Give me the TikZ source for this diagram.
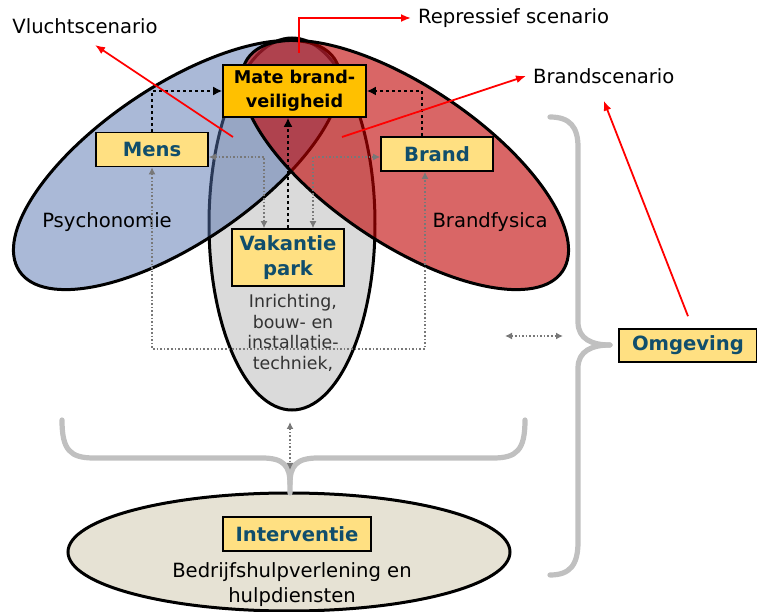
\documentclass[tikz,border=0pt]{standalone}
\usepackage{fontspec}
\setmainfont{DejaVu Sans}
\usetikzlibrary{arrows.meta}

\definecolor{psyblue}{RGB}{85,115,175}
\definecolor{firered}{RGB}{192,0,0}
\definecolor{parkgrey}{RGB}{218,218,218}
\definecolor{helpbeige}{RGB}{230,226,212}
\definecolor{boxyellow}{RGB}{255,224,130}
\definecolor{mateorange}{RGB}{255,192,0}
\definecolor{boxtext}{RGB}{16,78,108}
\definecolor{bracegrey}{RGB}{192,192,192}
\definecolor{dotgrey}{RGB}{120,120,120}

\begin{document}
\begin{tikzpicture}[x=0.5pt,y=0.5pt,
	every node/.style={font=\fontsize{9.8}{12.5}\selectfont},
	box/.style={draw=black,line width=0.8pt,fill=boxyellow,text=boxtext,font=\fontsize{9.8}{12.5}\selectfont\bfseries,align=center,inner sep=0pt,minimum width=56pt,minimum height=17pt},
	mate/.style={box,fill=mateorange,text=black,font=\fontsize{8.8}{12}\selectfont\bfseries,minimum width=71.5pt,minimum height=26pt},
	blackdot/.style={line width=1.4pt,dash pattern=on 1.4pt off 1.6pt,-{Latex[length=4.5pt,width=4.5pt]}},
	greydot/.style={dotgrey,line width=0.8pt,dash pattern=on 0.8pt off 1pt,{Latex[length=3.5pt,width=3.5pt]}-{Latex[length=3.5pt,width=3.5pt]}},
	redarrow/.style={red,line width=0.9pt,-{Latex[length=5pt,width=4pt]}},
	brace/.style={bracegrey,line width=2.6pt,line cap=round}]
	\useasboundingbox (0,0) rectangle (757,612);
	% the three fields
	\draw[line width=1.5pt,fill=parkgrey] (292,388) ellipse [x radius=83,y radius=186];
	\draw[line width=1.5pt,fill=psyblue,fill opacity=0.5,rotate around={34:(177,447)}] (177,447) ellipse [x radius=190,y radius=78.5];
	\draw[line width=1.5pt,fill=firered,fill opacity=0.6,rotate around={-34:(405,447)}] (405,447) ellipse [x radius=190,y radius=78.5];
	\draw[line width=1.5pt,fill=helpbeige] (289,60) ellipse [x radius=221,y radius=59];
	% braces
	\draw[brace] (62,192) .. controls (62,162) and (70,154) .. (94,154) -- (262,154) .. controls (284,154) and (290,146) .. (290,128) -- (290,119);
	\draw[brace] (290,128) .. controls (290,146) and (296,154) .. (318,154) -- (493,154) .. controls (517,154) and (525,162) .. (525,192);
	\draw[brace] (550,495) .. controls (570,495) and (578,485) .. (578,465) -- (578,290) .. controls (578,273) and (592,267) .. (610,267);
	\draw[brace] (610,267) .. controls (592,267) and (578,261) .. (578,244) -- (578,70) .. controls (578,47) and (570,37) .. (550,37);
	% labels
	\node (psy) at (107,390) {Psychonomie};
	\node (bfys) at (490,390) {Brandfysica};
	\node[align=center,text=black!80,font=\fontsize{8.7}{10.3}\selectfont] (inr) at (293,279) {Inrichting,\\bouw- en\\installatie-\\techniek,};
	\node[align=center] (bhv) at (292,27) {Bedrijfshulpverlening en\\hulpdiensten};
	\node (vlucht) at (85,586) {Vluchtscenario};
	\node[anchor=west] (repr) at (411,594) {Repressief scenario};
	\node[anchor=west] (bsc) at (526,536) {Brandscenario};
	% boxes
	\node[mate] (mate) at (294.5,521) {Mate brand-\\veiligheid};
	\node[box] (mens) at (152,462.5) {Mens};
	\node[box] (brand) at (437,458) {Brand};
	\node[box,minimum height=28.5pt] (vak) at (288,354.5) {Vakantie\\park};
	\node[box,minimum width=74pt] (inter) at (297,78) {Interventie};
	\node[box,minimum width=69pt,minimum height=16.5pt] (omg) at (688,266.5) {Omgeving};
	% free ends
	\coordinate (vluchtfrom) at (233,475);
	\coordinate (vluchttip) at (95,567);
	\coordinate (reprfrom) at (299,559);
	\coordinate (bscfrom) at (342,475);
	\coordinate (loopr) at (425,263);
	\coordinate (omgl) at (505,276);
	\coordinate (omgr) at (563,276);
	\coordinate (intert) at (290,190);
	\coordinate (interb) at (290,142);
	% influences
	\draw[blackdot] (mens.north) |- (mate.west);
	\draw[blackdot] ([xshift=-7.5pt]brand.north) |- (mate.east);
	\draw[blackdot] (vak.north) -- (vak.north |- mate.south);
	\draw[greydot] ([yshift=-3.75pt]mens.east) -| ([xshift=-12pt]vak.north);
	\draw[greydot] ([yshift=-1.5pt]brand.west) -| ([xshift=12.5pt]vak.north);
	\draw[greydot] (mens.south) |- (loopr) -- ([xshift=-6pt]brand.south);
	\draw[greydot] (omgl) -- (omgr);
	\draw[greydot] (intert) -- (interb);
	% scenarios
	\draw[redarrow] (vluchtfrom) -- (vluchttip);
	\draw[redarrow] (reprfrom) |- (repr.west);
	\draw[redarrow] (bscfrom) -- (bsc.west);
	\draw[redarrow] ([yshift=6pt]omg.north) -- ([yshift=-5pt]bsc.south);
\end{tikzpicture}
\end{document}
